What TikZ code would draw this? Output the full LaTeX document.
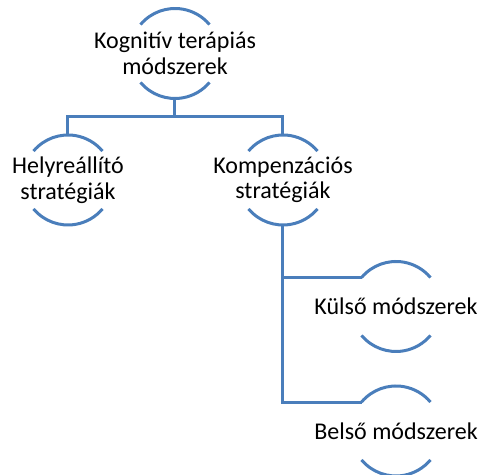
\documentclass[tikz,border=0pt]{standalone}
\usepackage{fontspec}
\setmainfont{Carlito}
\usetikzlibrary{positioning}
\usetikzlibrary{calc}

\definecolor{arcblue}{RGB}{74,126,187}

\tikzset{
  label/.style={align=center,inner sep=0pt,font=\fontsize{12}{12.8}\selectfont},
  arcline/.style={draw=arcblue,line width=1.5pt},
  link/.style={draw=arcblue,line width=1.5pt}
}

% arcs above and below a label, plus points to hook links on
\newcommand{\arcpair}[1]{%
  \draw[arcline] ([shift={(140:22.5pt)}]#1.center) arc[start angle=140,end angle=40,radius=22.5pt];
  \draw[arcline] ([shift={(220:22.5pt)}]#1.center) arc[start angle=220,end angle=320,radius=22.5pt];
  \coordinate (#1-up) at ([yshift=22.5pt]#1.center);
  \coordinate (#1-down) at ([yshift=-22.5pt]#1.center);
  \coordinate (#1-left) at ([shift={(140:22.5pt)}]#1.center);
}

\begin{document}
\begin{tikzpicture}[x=0.5pt,y=0.5pt,on grid]
    \useasboundingbox (0,0) rectangle (479,475);
    % Place nodes
    \node[label] (top) at (175,421.5) {Kognitív terápiás\\módszerek};
    \node[label,below left=63.25pt and 53.5pt of top] (helyre) {Helyreállító\\stratégiák};
    \node[label,below right=63.25pt and 54pt of top] (kompenz) {Kompenzációs\\stratégiák};
    \node[label,below right=63.25pt and 56.5pt of kompenz] (kulso) {Külső módszerek};
    \node[label,below=62.25pt of kulso] (belso) {Belső módszerek};

    % Arcs
    \arcpair{top}
    \arcpair{helyre}
    \arcpair{kompenz}
    \arcpair{kulso}
    \arcpair{belso}

    % Links
    \draw[link] (top-down) -- ++(0,-18.25) -| (helyre-up);
    \draw[link] (top-down) -- ++(0,-18.25) -| (kompenz-up);
    \draw[link] (kompenz-down) |- (kulso-left);
    \draw[link] (kompenz-down) |- (belso-left);
\end{tikzpicture}
\end{document}
